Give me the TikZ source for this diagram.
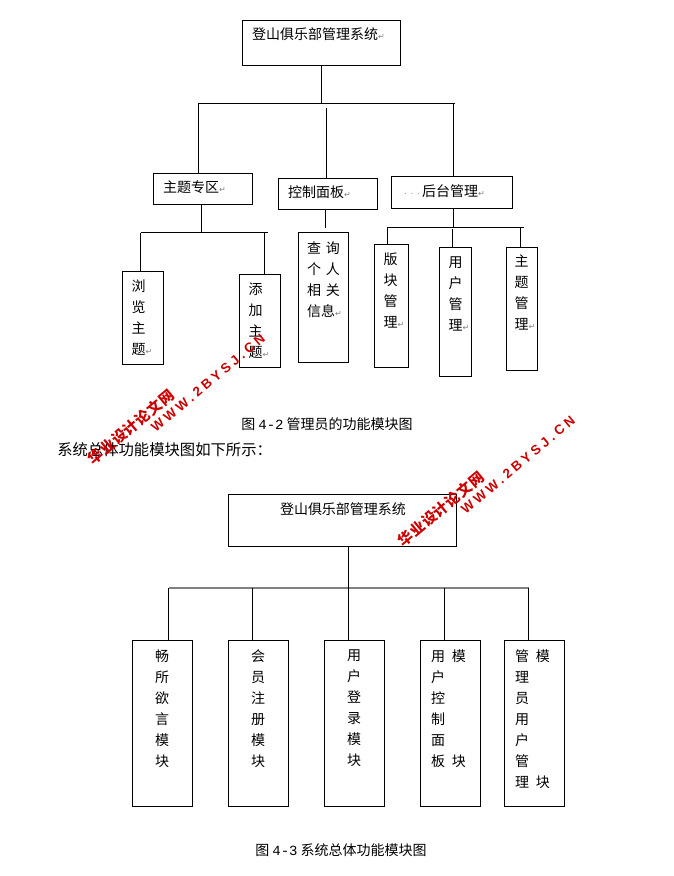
\documentclass[tikz,border=0pt]{standalone}
\usepackage{fontspec}
\usepackage{xcolor}
\setmainfont{Noto Sans CJK SC}
\setmonofont{Liberation Mono}
\newfontfamily\dejavu{DejaVu Sans}
\newfontfamily\stampcjk[LetterSpace=4]{Noto Sans CJK SC}
\newfontfamily\stamplatin[LetterSpace=26]{Liberation Sans}
\newcommand{\retmark}{{\dejavu\fontsize{6}{6}\selectfont\textcolor{gray}{↵}}}
\newcommand{\boxrows}[5]{\parbox[c][\dimexpr #2pt*3/4\relax][t]{\dimexpr #1pt*3/4\relax}{\fontsize{10.5}{15.75}\selectfont\raggedright\lineskiplimit=-20pt\leftskip=\dimexpr #3pt*3/4\relax\parindent=0pt\vspace*{\dimexpr #4pt*3/4\relax}#5}}
\newcommand{\gapcol}{\hspace{3.7pt}}
\newcommand{\gapmod}{\hspace{5.2pt}}
\tikzset{
    modbox/.style={draw, line width=0.75pt, inner sep=0pt, outer sep=0pt, anchor=north west},
    link/.style={line width=0.75pt},
    caption/.style={inner sep=0pt, anchor=west, font=\fontsize{10.5}{12}\selectfont},
    stampred/.style={inner sep=0pt, rotate=40, text=red!80!black, font=\bfseries}
}

\begin{document}
\begin{tikzpicture}[x=0.75pt, y=-0.75pt]
    \useasboundingbox (0,0) rectangle (674,876);

    % admin chart
    \node[modbox] (adminroot) at (242,20) {\boxrows{158}{45}{10}{8}{登山俱乐部管理系统\retmark}};
    \node[modbox] (themearea) at (153,173) {\boxrows{99.5}{31.5}{10}{8}{主题专区\retmark}};
    \node[modbox] (panel) at (278,178) {\boxrows{99.5}{31}{10}{8}{控制面板\retmark}};
    \node[modbox] (backend) at (391,176) {\boxrows{121}{32}{11}{9}{\textcolor{gray!70}{\fontsize{5}{5}\selectfont···}后台管理\retmark}};

    \node[modbox] (browse) at (122.5,271) {\boxrows{41}{93.5}{9}{8.5}{浏\\览\\主\\题\retmark}};
    \node[modbox] (addtheme) at (239.5,274) {\boxrows{41}{93}{9}{9}{添\\加\\主\\题\retmark}};
    \node[modbox] (query) at (298,232.5) {\boxrows{50.5}{129.5}{9}{9.5}{查\gapcol 询\\个\gapcol 人\\相\gapcol 关\\信息\retmark}};
    \node[modbox] (forum) at (374.5,244) {\boxrows{34}{123}{9}{9}{版\\块\\管\\理\retmark}};
    \node[modbox] (users) at (439,247.5) {\boxrows{32.5}{128.5}{9.5}{9}{用\\户\\管\\理\retmark}};
    \node[modbox] (themes) at (506,247) {\boxrows{31.5}{123}{8.5}{8}{主\\题\\管\\理\retmark}};

    \coordinate (adminbarL) at (198,103);
    \coordinate (adminbarR) at (455,103);
    \coordinate (panelfree) at (326,108);
    \coordinate (backdrop) at (453,103);
    \draw[link] (adminbarL) -- (adminbarR);
    \draw[link] (adminroot.south) -- (adminroot.south |- adminbarL);
    \draw[link] (adminbarL) -- (adminbarL |- themearea.north);
    \draw[link] (panelfree) -- (panelfree |- panel.north);
    \draw[link] (backdrop) -- (backdrop |- backend.north);

    \coordinate (themebarL) at (140.5,232.5);
    \coordinate (themebarR) at (268,232.5);
    \coordinate (themestem) at (201.5,232.5);
    \coordinate (addfree) at (264.5,232.5);
    \draw[link] (themebarL) -- (themebarR);
    \draw[link] (themestem |- themearea.south) -- (themestem);
    \draw[link] (themebarL) -- (themebarL |- browse.north);
    \draw[link] (addfree) -- (addfree |- addtheme.north);

    \coordinate (panelstem) at (325.5,228);
    \draw[link] (panelstem |- panel.south) -- (panelstem);

    \coordinate (backbarL) at (387,227);
    \coordinate (backbarR) at (524,227);
    \coordinate (backstem) at (453,227);
    \coordinate (usersfree) at (452.5,229);
    \coordinate (themesdrop) at (520.5,227);
    \draw[link] (backbarL) -- (backbarR);
    \draw[link] (backstem |- backend.south) -- (backstem);
    \draw[link] (backbarL) -- (backbarL |- forum.north);
    \draw[link] (usersfree) -- (usersfree |- users.north);
    \draw[link] (themesdrop) -- (themesdrop |- themes.north);

    \node[caption] (figtwo) at (241,424) {图 {\ttfamily 4-2} 管理员的功能模块图};
    \node[caption, font=\fontsize{11.5}{13}\selectfont] (intro) at (57,450) {系统总体功能模块图如下所示：};

    % system chart
    \node[modbox] (sysroot) at (228,494) {\boxrows{228.5}{52}{52}{9}{登山俱乐部管理系统}};
    \node[modbox] (forumtalk) at (132,640) {\boxrows{60.5}{166}{23}{10}{畅\\所\\欲\\言\\模\\块}};
    \node[modbox] (signup) at (228,640) {\boxrows{60.5}{166}{23}{10}{会\\员\\注\\册\\模\\块}};
    \node[modbox] (login) at (324,640) {\boxrows{60.5}{166}{23}{10}{用\\户\\登\\录\\模\\块}};
    \node[modbox] (userpanel) at (420,640) {\boxrows{60.5}{166}{11}{10}{用\gapmod 模\\户\\控\\制\\面\\板\gapmod 块}};
    \node[modbox] (adminmod) at (504,640) {\boxrows{60.5}{166}{11}{10}{管\gapmod 模\\理\\员\\用\\户\\管\\理\gapmod 块}};

    \coordinate (sysbarL) at (168.5,588);
    \coordinate (sysbarR) at (528.5,588);
    \coordinate (signupdrop) at (252.5,588);
    \coordinate (logindrop) at (348.5,588);
    \coordinate (paneldrop) at (444.5,588);
    \draw[line width=1.1pt, gray] (sysbarL) -- (sysbarR);
    \draw[link] (logindrop |- sysroot.south) -- (logindrop);
    \draw[link] (sysbarL) -- (sysbarL |- forumtalk.north);
    \draw[link] (signupdrop) -- (signupdrop |- signup.north);
    \draw[link] (logindrop) -- (logindrop |- login.north);
    \draw[link] (paneldrop) -- (paneldrop |- userpanel.north);
    \draw[link] (sysbarR) -- (sysbarR |- adminmod.north);

    \node[caption] (figthree) at (255,850) {图 {\ttfamily 4-3} 系统总体功能模块图};

    % red site marks
    \node[stampred] (markcjkA) at (131,427) {\stampcjk\fontsize{11}{11}\selectfont\bfseries 华业设计论文网};
    \node[stampred] (marklatA) at (208,383) {\stamplatin\fontsize{10}{10}\selectfont\bfseries WWW.2BYSJ.CN};
    \node[stampred] (markcjkB) at (441,509) {\stampcjk\fontsize{11}{11}\selectfont\bfseries 华业设计论文网};
    \node[stampred] (marklatB) at (518,465) {\stamplatin\fontsize{10}{10}\selectfont\bfseries WWW.2BYSJ.CN};
\end{tikzpicture}
\end{document}
